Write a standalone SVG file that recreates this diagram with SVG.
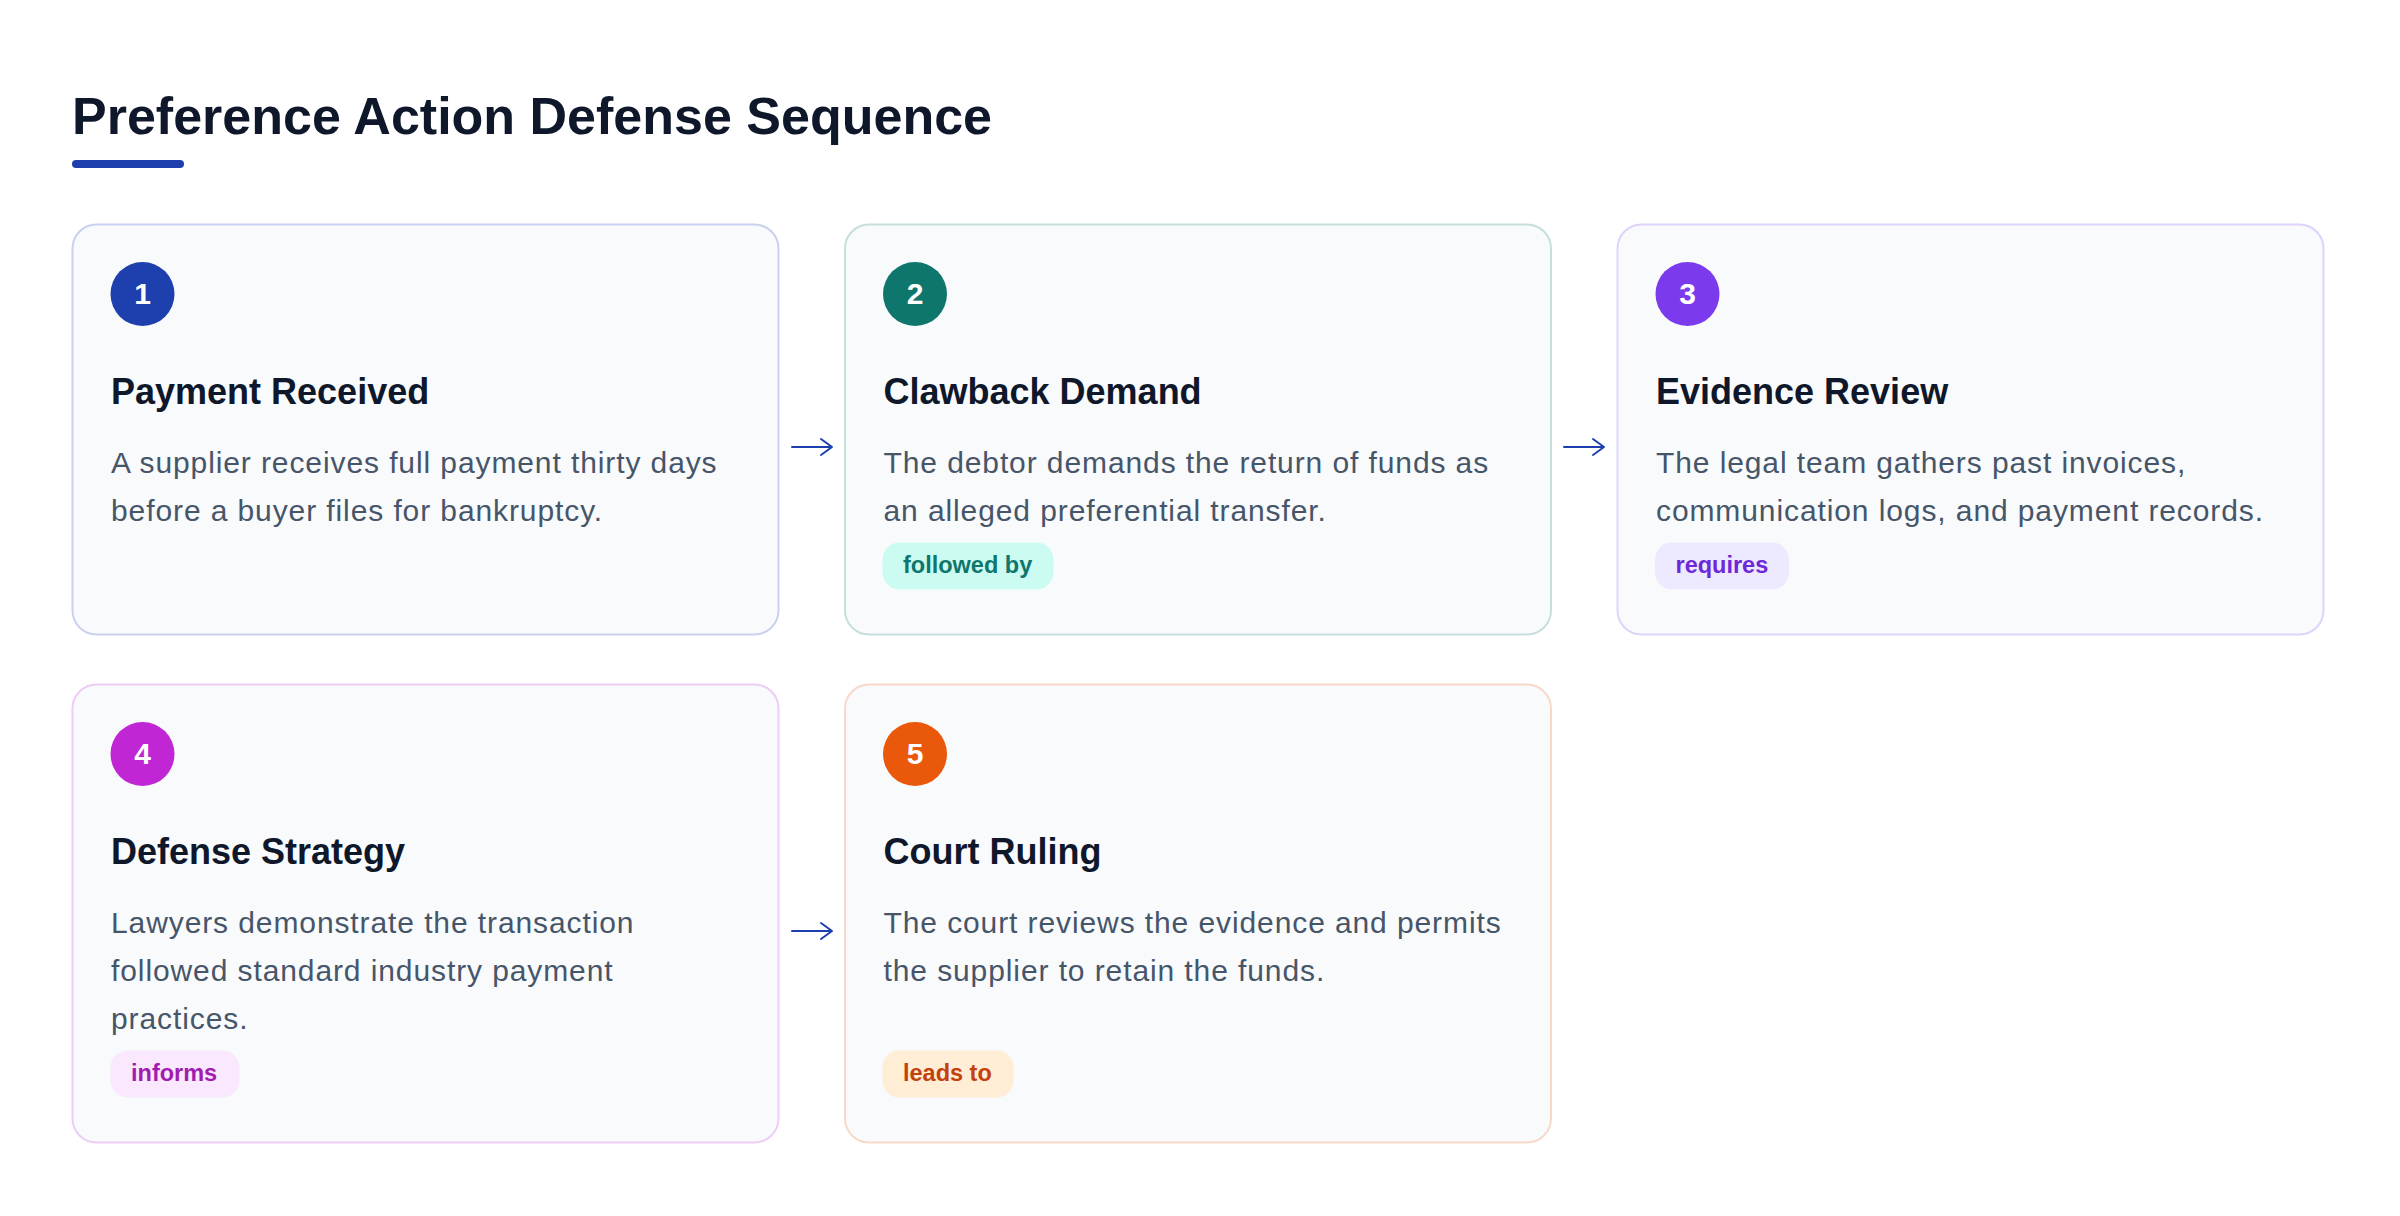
<svg xmlns="http://www.w3.org/2000/svg" width="2400" height="1216" viewBox="0 0 2400 1216">
<defs>
<style>
.title{font-family:"Liberation Sans",Arial,sans-serif;font-weight:700;font-size:52px;fill:#0f172a}
.card{fill:#f8fafc;stroke-width:2}
.num{font-family:"Liberation Sans",Arial,sans-serif;font-weight:700;font-size:30px;fill:#ffffff;text-anchor:middle}
.head{font-family:"Liberation Sans",Arial,sans-serif;font-weight:700;font-size:36px;fill:#0f172a}
.desc{font-family:"Liberation Sans",Arial,sans-serif;font-size:30px;letter-spacing:0.9px;fill:#475569}
.tag{font-family:"Liberation Sans",Arial,sans-serif;font-weight:700;font-size:23.5px}
.conn{fill:none;stroke:#1e40af;stroke-width:2;stroke-linecap:round;stroke-linejoin:round}
</style>
</defs>
<rect width="2400" height="1216" fill="#ffffff"/>
<g id="header">
<text class="title" x="72" y="134">Preference Action Defense Sequence</text>
<rect x="72" y="160" width="112" height="8" rx="4" fill="#1e40af"/>
</g>
<g id="connectors">
<path class="conn" d="M792 447 H831 M821 439 L832 447 L821 455"/>
<path class="conn" d="M1564 447 H1603 M1593 439 L1604 447 L1593 455"/>
<path class="conn" d="M792 931 H831 M821 923 L832 931 L821 939"/>
</g>
<g id="node1">
<rect class="card" x="72.5" y="224.5" width="706" height="410" rx="24" stroke="#c9d1ee"/>
<circle cx="142.5" cy="294" r="32" fill="#1e40af"/>
<text class="num" x="142.5" y="304">1</text>
<text class="head" x="111" y="404">Payment Received</text>
<text class="desc" x="111" y="473">A supplier receives full payment thirty days</text>
<text class="desc" x="111" y="521">before a buyer files for bankruptcy.</text>
</g>
<g id="node2">
<rect class="card" x="845" y="224.5" width="706" height="410" rx="24" stroke="#c5dfdc"/>
<circle cx="915" cy="294" r="32" fill="#0f766e"/>
<text class="num" x="915" y="304">2</text>
<text class="head" x="883.5" y="404">Clawback Demand</text>
<text class="desc" x="883.5" y="473">The debtor demands the return of funds as</text>
<text class="desc" x="883.5" y="521">an alleged preferential transfer.</text>
<rect x="882.5" y="542.5" width="171" height="47" rx="17" fill="#ccfbf1"/>
<text class="tag" x="903" y="573" fill="#0f766e">followed by</text>
</g>
<g id="node3">
<rect class="card" x="1617.5" y="224.5" width="706" height="410" rx="24" stroke="#ddd3fb"/>
<circle cx="1687.5" cy="294" r="32" fill="#7c3aed"/>
<text class="num" x="1687.5" y="304">3</text>
<text class="head" x="1656" y="404">Evidence Review</text>
<text class="desc" x="1656" y="473">The legal team gathers past invoices,</text>
<text class="desc" x="1656" y="521">communication logs, and payment records.</text>
<rect x="1655" y="542.5" width="134" height="47" rx="17" fill="#ede9fe"/>
<text class="tag" x="1675.5" y="573" fill="#6d28d9">requires</text>
</g>
<g id="node4">
<rect class="card" x="72.5" y="684.5" width="706" height="458" rx="24" stroke="#eecdf4"/>
<circle cx="142.5" cy="754" r="32" fill="#c026d3"/>
<text class="num" x="142.5" y="764">4</text>
<text class="head" x="111" y="864">Defense Strategy</text>
<text class="desc" x="111" y="933">Lawyers demonstrate the transaction</text>
<text class="desc" x="111" y="981">followed standard industry payment</text>
<text class="desc" x="111" y="1029">practices.</text>
<rect x="110.5" y="1050.5" width="129" height="47" rx="17" fill="#fae8ff"/>
<text class="tag" x="131" y="1081" fill="#a21caf">informs</text>
</g>
<g id="node5">
<rect class="card" x="845" y="684.5" width="706" height="458" rx="24" stroke="#f8d9c9"/>
<circle cx="915" cy="754" r="32" fill="#ea580c"/>
<text class="num" x="915" y="764">5</text>
<text class="head" x="883.5" y="864">Court Ruling</text>
<text class="desc" x="883.5" y="933">The court reviews the evidence and permits</text>
<text class="desc" x="883.5" y="981">the supplier to retain the funds.</text>
<rect x="882.5" y="1050.5" width="131" height="47" rx="17" fill="#ffedd5"/>
<text class="tag" x="903" y="1081" fill="#c2410c">leads to</text>
</g>
</svg>
